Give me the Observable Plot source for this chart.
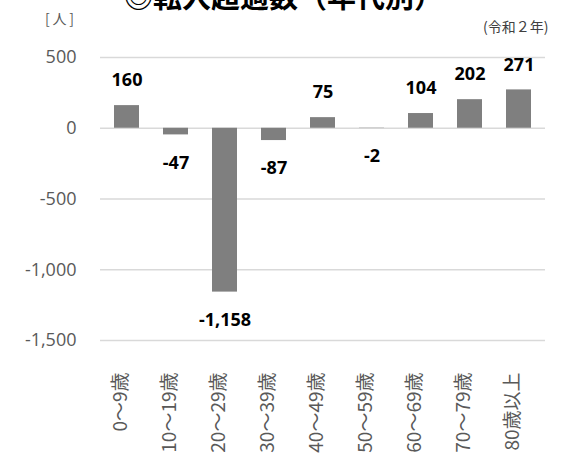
<!DOCTYPE html>
<html><head><meta charset="utf-8">
<script src="https://cdn.jsdelivr.net/npm/d3@7"></script>
<script src="https://cdn.jsdelivr.net/npm/@observablehq/plot@0.6"></script>
<style>
html,body{margin:0;padding:0;background:#fff;overflow:hidden;}
#wrap{position:relative;width:563px;height:459px;overflow:hidden;}
#title{position:absolute;left:124px;top:-19px;font-family:"Noto Sans CJK JP";font-weight:bold;font-size:29px;line-height:29px;color:#000;white-space:nowrap;}
#unit{position:absolute;left:45px;top:9px;font-family:"Noto Sans CJK JP";font-size:14px;line-height:18px;color:#595959;white-space:nowrap;}
#year{position:absolute;left:483px;top:17px;font-family:"Noto Sans CJK JP";font-size:14px;line-height:18px;color:#404040;white-space:nowrap;}
</style></head>
<body><div id="wrap">
<div id="title">◎転入超過数（年代別）</div>
<div id="unit">[&thinsp;人&thinsp;]</div>
<div id="year">(令和２年)</div>
</div>
<script>
const categories = ["0～9歳","10～19歳","20～29歳","30～39歳","40～49歳","50～59歳","60～69歳","70～79歳","80歳以上"];
const values = [160, -47, -1158, -87, 75, -2, 104, 202, 271];
const yTicks = [500, 0, -500, -1000, -1500];

const data = categories.map((c, i) => ({cat: c, v: values[i]}));
const fmt = d => d3.format(",")(d).replace("−", "-");

const chart = Plot.plot({
  width: 563,
  height: 459,
  marginLeft: 100,
  marginRight: 18,
  marginTop: 57,
  marginBottom: 119,
  style: {fontFamily: "'Open Sans', 'Noto Sans CJK JP', sans-serif", background: "transparent"},
  x: {domain: categories, paddingInner: 0.5, paddingOuter: 0.25, label: null, axis: null},
  y: {domain: [-1500, 500], label: null},
  marks: [
    Plot.gridY(yTicks, {stroke: "#d9d9d9", strokeOpacity: 1, strokeWidth: 1.3}),
    Plot.barY(data, {x: "cat", y: "v", fill: "#7f7f7f"}),
    Plot.axisY(yTicks, {tickSize: 0, tickPadding: 0, dx: -24, fontSize: 18, fill: "#595959", tickFormat: fmt, label: null}),
    Plot.text(categories, {
      x: d => d, frameAnchor: "bottom", rotate: -90, textAnchor: "end",
      dy: 32, fontSize: 19, fill: "#595959",
      fontFamily: "'Noto Sans CJK JP', sans-serif"
    }),
    Plot.text(data.filter(d => d.v >= 0), {
      x: "cat", y: "v", text: d => fmt(d.v), dy: -25,
      fontSize: 18, fontWeight: "bold", fill: "#000",
      fontFamily: "'Open Sans', sans-serif"
    }),
    Plot.text(data.filter(d => d.v < 0), {
      x: "cat", y: "v", text: d => fmt(d.v), dy: 28,
      fontSize: 18, fontWeight: "bold", fill: "#000",
      fontFamily: "'Open Sans', sans-serif"
    })
  ]
});
document.getElementById("wrap").appendChild(chart);
chart.style.position = "absolute";
chart.style.left = "0";
chart.style.top = "0";
</script>
</body></html>
